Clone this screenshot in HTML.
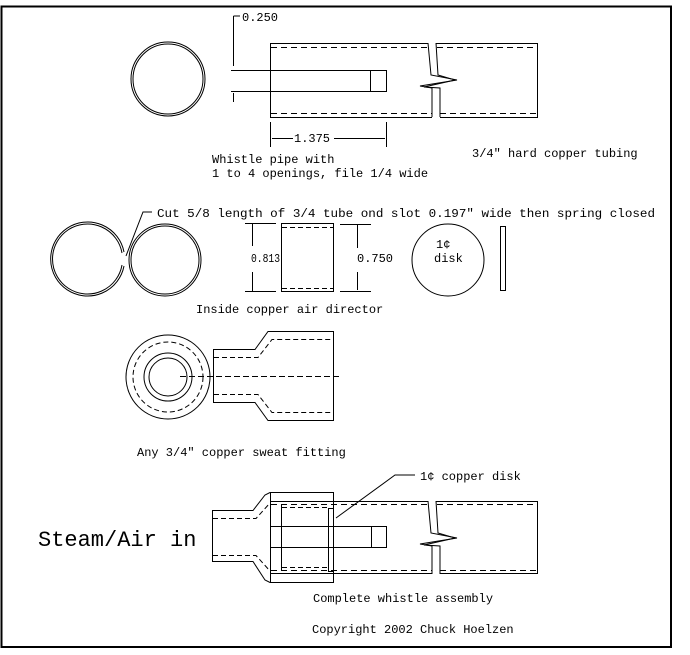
<!DOCTYPE html>
<html><head><style>
html,body{margin:0;padding:0;background:#fff;}
svg{display:block;}
text{font-family:"Liberation Mono",monospace;font-size:12px;fill:#000;stroke:none;}
</style></head><body>
<svg width="690" height="655" viewBox="0 0 690 655" xmlns="http://www.w3.org/2000/svg" fill="none" stroke="#000" stroke-width="1">
<rect x="1.5" y="6.5" width="669.5" height="640.5" stroke-width="2"/>

<!-- ROW 1 -->
<circle cx="168" cy="79" r="37"/>
<circle cx="168" cy="79" r="35"/>
<path d="M428 43.5 H270.5 V117.5 H432"/>
<path d="M271 47.5 H428" stroke-dasharray="6,4"/>
<path d="M271 113.5 H432" stroke-dasharray="6,4"/>
<path d="M428 43 L431 75 L457 80 L420 86 L432 88 V117"/>
<path d="M436 43 L438 75 L455 80 L424 87 L440 88 V117"/>
<path d="M436 43.5 H537.5 V117.5 H440"/>
<path d="M437 47.5 H537" stroke-dasharray="6,4"/>
<path d="M440 113.5 H537" stroke-dasharray="6,4"/>
<path d="M231 70.5 H386.5 V91.5 H231"/>
<path d="M370.5 70 V91"/>
<path d="M233.5 16 V66 M233.5 16 H240 M233.5 93 V102"/>
<text x="242" y="21">0.250</text>
<path d="M270.5 122 V147 M386.5 122 V147 M272 138.5 H293 M334 138.5 H385"/>
<text x="294" y="142">1.375</text>
<text x="212" y="163">Whistle pipe with</text>
<text x="212" y="177">1 to 4 openings, file 1/4 wide</text>
<text x="472" y="157">3/4" hard copper tubing</text>

<!-- ROW 2 -->
<path d="M124 252 A37 37 0 1 0 124 266"/>
<path d="M122 253 A35 35 0 1 0 122 265"/>
<circle cx="165" cy="260" r="36"/>
<circle cx="165" cy="260" r="34"/>
<path d="M126 256 L143 212 H152"/>
<text x="157" y="217" textLength="498" lengthAdjust="spacingAndGlyphs">Cut 5/8 length of 3/4 tube ond slot 0.197" wide then spring closed</text>
<rect x="281.5" y="223.5" width="52" height="68"/>
<path d="M282 227.5 H333 M282 288.5 H333" stroke-dasharray="5,3"/>
<path d="M245 223.5 H276 M245 291.5 H276 M252.5 224 V246 M252.5 272 V291"/>
<text x="251" y="262" textLength="29" lengthAdjust="spacingAndGlyphs">0.813</text>
<path d="M340 224.5 H371 M340 291.5 H371 M357.5 225 V248 M357.5 272 V290"/>
<text x="357" y="262">0.750</text>
<circle cx="448" cy="260" r="36"/>
<text x="436" y="248">1¢</text>
<text x="434" y="262">disk</text>
<rect x="500.5" y="226.5" width="5" height="64"/>
<text x="196" y="313">Inside copper air director</text>

<!-- ROW 3 -->
<circle cx="168" cy="377" r="42"/>
<circle cx="168" cy="377" r="35" stroke-dasharray="5,3"/>
<circle cx="168" cy="377" r="24"/>
<circle cx="168" cy="377" r="19"/>
<path d="M213.5 349 V402 M213 349.5 H255 L268 331.5 H333.5 V420.5 H268 L255 402.5 H213"/>
<path d="M214 357.5 H258 L272 339.5 H333 M214 394.5 H258 L272 412.5 H333" stroke-dasharray="5,3"/>
<path d="M180 376.5 H342" stroke-dasharray="6,3"/>
<text x="137" y="456">Any 3/4" copper sweat fitting</text>

<!-- ROW 4 -->
<path d="M212.5 510 V562 M212 510.5 H253 L265 495 L270 492.5 H333.5 V582.5 H270 L265 580 L253 561.5 H212"/>
<path d="M213 518.5 H256 L270 503 M213 555.5 H256 L270 571" stroke-dasharray="5,3"/>
<path d="M270.5 492 V582"/>
<path d="M428 501.5 H270.5 M270 573.5 H432"/>
<path d="M271 504.5 H428 M271 570.5 H432" stroke-dasharray="6,4"/>
<path d="M428 501 L431 533 L457 538 L420 544 L432 546 V574"/>
<path d="M436 501 L438 533 L455 538 L424 545 L440 546 V574"/>
<path d="M436 501.5 H537.5 V573.5 H440"/>
<path d="M437 504.5 H537 M440 570.5 H537" stroke-dasharray="6,4"/>
<path d="M281.5 504 V571"/>
<path d="M282 507.5 H328 M282 567.5 H328" stroke-dasharray="5,3"/>
<rect x="328.5" y="508.5" width="5" height="63"/>
<path d="M270 526.5 H386.5 V547.5 H270 M371.5 527 V547"/>
<path d="M336 518 L395 475 H415"/>
<text x="420" y="480">1¢ copper disk</text>
<text x="38" y="546" style="font-size:22px">Steam/Air in</text>
<text x="313" y="602">Complete whistle assembly</text>
<text x="312" y="633">Copyright 2002 Chuck Hoelzen</text>
</svg>
</body></html>
